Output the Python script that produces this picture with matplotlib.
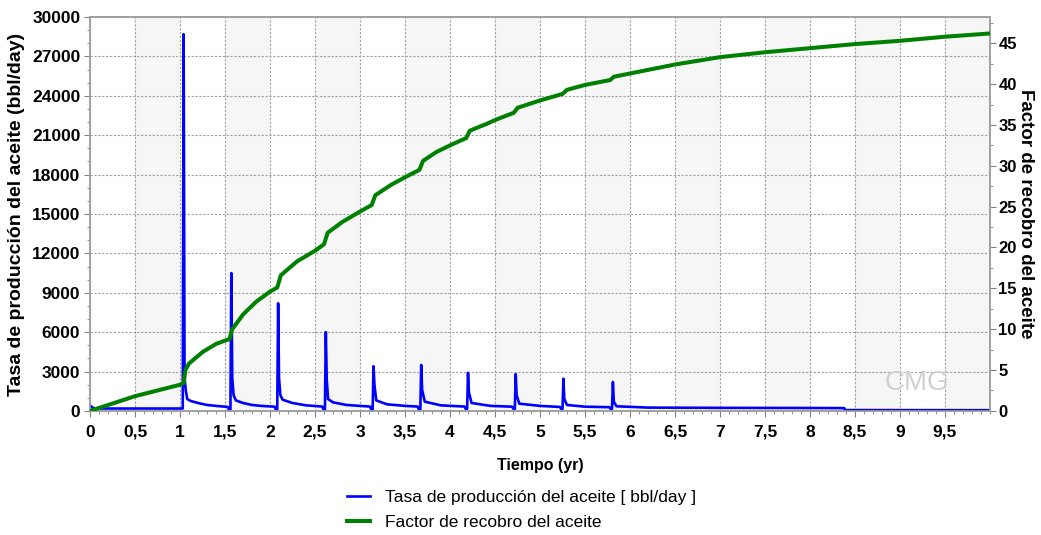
import numpy as np
import matplotlib.pyplot as plt
from matplotlib.ticker import MultipleLocator, FuncFormatter

plt.rcParams['font.family'] = ['Liberation Sans', 'DejaVu Sans']

# oil rate (bbl/day) vs time (yr)
t_rate = [0.0, 0.03, 0.06, 1.03, 1.04, 1.05, 1.065, 1.08, 1.12, 1.2, 1.3, 1.4, 1.53, 1.545, 1.56,
          1.57, 1.58, 1.595, 1.62, 1.7, 1.8, 1.9, 2.05, 2.065, 2.08,
          2.09, 2.1, 2.115, 2.14, 2.25, 2.4, 2.58, 2.595, 2.61,
          2.62, 2.63, 2.645, 2.7, 2.85, 3.0, 3.11, 3.125, 3.14,
          3.15, 3.16, 3.18, 3.3, 3.5, 3.64, 3.655, 3.67,
          3.68, 3.69, 3.72, 3.9, 4.16, 4.175, 4.19,
          4.2, 4.21, 4.24, 4.45, 4.69, 4.705, 4.72,
          4.73, 4.74, 4.77, 5.0, 5.22, 5.235, 5.25,
          5.26, 5.27, 5.3, 5.5, 5.77, 5.785, 5.8,
          5.81, 5.82, 5.85, 6.2, 7.0, 8.0, 8.38, 8.39, 10.0]
rate = [400, 250, 180, 180, 28700, 2500, 1500, 900, 750, 600, 450, 380, 300, 100, 100,
        10500, 2500, 1200, 800, 600, 450, 380, 320, 100, 100,
        8200, 2500, 1200, 850, 600, 420, 330, 100, 100,
        6000, 2400, 900, 650, 450, 380, 330, 100, 100,
        3400, 2000, 800, 500, 380, 330, 100, 100,
        3500, 1600, 700, 420, 330, 150, 150,
        2900, 1400, 600, 380, 320, 150, 150,
        2800, 1200, 550, 380, 300, 150, 150,
        2450, 900, 450, 320, 280, 150, 150,
        2200, 700, 350, 250, 230, 220, 210, 60, 50]

# recovery factor (%) vs time (yr)
t_rf = [0.0, 0.25, 0.5, 0.75, 1.0, 1.04, 1.06, 1.1, 1.25, 1.4, 1.55, 1.58, 1.7, 1.85, 2.0, 2.08,
        2.12, 2.3, 2.5, 2.6, 2.64, 2.8, 3.0, 3.13, 3.17, 3.35, 3.5, 3.66, 3.7, 3.85, 4.0,
        4.18, 4.22, 4.4, 4.5, 4.71, 4.75, 5.0, 5.25, 5.3, 5.5, 5.78, 5.82, 6.0, 6.5, 7.0,
        7.5, 8.0, 8.5, 9.0, 9.5, 10.0]
rf = [0.0, 0.9, 1.8, 2.5, 3.2, 3.4, 5.0, 5.8, 7.2, 8.2, 8.8, 10.0, 11.8, 13.4, 14.6, 15.1,
      16.6, 18.3, 19.6, 20.4, 21.8, 23.1, 24.4, 25.2, 26.4, 27.7, 28.6, 29.5, 30.6, 31.7, 32.5,
      33.4, 34.3, 35.1, 35.6, 36.5, 37.1, 38.0, 38.8, 39.3, 39.9, 40.5, 40.9, 41.3, 42.4, 43.3,
      43.9, 44.4, 44.9, 45.3, 45.8, 46.2]

fig = plt.figure(figsize=(10.41, 5.35), dpi=100)
ax = fig.add_axes([0.0865, 0.232, 0.8645, 0.736])
ax2 = ax.twinx()

# alternating background bands
for x0 in np.arange(0.5, 10, 1.0):
    ax.axvspan(x0, x0 + 0.5, color='#f6f6f6', zorder=0, lw=0)

l1, = ax.plot(t_rate, rate, color='#0000ff', lw=1.9, zorder=3)
l2, = ax2.plot(t_rf, rf, color='#008000', lw=2.9, zorder=3)

ax.set_xlim(0, 10)
ax.set_ylim(0, 30000)
ax2.set_ylim(0, 48.2)

ax.set_xticks(np.arange(0, 10, 0.5))
ax.xaxis.set_minor_locator(MultipleLocator(0.1))
ax.yaxis.set_major_locator(MultipleLocator(3000))
ax.yaxis.set_minor_locator(MultipleLocator(1000))
ax2.yaxis.set_major_locator(MultipleLocator(5))
ax2.yaxis.set_minor_locator(MultipleLocator(2.5))

ax.xaxis.set_major_formatter(FuncFormatter(lambda v, p: ('%g' % v).replace('.', ',')))

ax.grid(True, which='major', color='#a0a0a0', ls=(0, (2, 1.5)), lw=0.8, zorder=1)
ax.axvline(10, color='#a0a0a0', lw=0.8, ls=(0, (2, 1.5)), zorder=1)
ax.set_axisbelow(True)

for a in (ax, ax2):
    for s in a.spines.values():
        s.set_color('#a0a0a0')
        s.set_linewidth(1.2)
    a.tick_params(which='both', color='#808080')
    a.tick_params(which='major', length=4, labelsize=12.5)
    a.tick_params(which='minor', length=2)
    for lab in a.get_xticklabels() + a.get_yticklabels():
        lab.set_fontweight('bold')
ax.tick_params(axis='x', which='major', pad=6)
ax.tick_params(axis='y', which='major', pad=3)
ax2.tick_params(axis='y', which='major', pad=2, labelsize=12)

ax.set_xlabel('Tiempo (yr)', fontsize=11.5, fontweight='bold', labelpad=13)
ax.set_ylabel('Tasa de producción del aceite (bbl/day)', fontsize=14, fontweight='bold')
ax.yaxis.set_label_coords(-0.072, 0.5)
ax2.set_ylabel('Factor de recobro del aceite', fontsize=13.5, fontweight='bold', rotation=-90,
               va='center', ha='center')
ax2.yaxis.set_label_coords(1.04, 0.5)

ax2.text(0.955, 0.07, 'CMG', transform=ax.transAxes, fontsize=20, color='#d0d0d0',
         ha='right', va='center', zorder=0)

fig.legend([l1, l2], ['Tasa de producción del aceite [ bbl/day ]', 'Factor de recobro del aceite'],
           loc='upper left', bbox_to_anchor=(0.325, 0.1), frameon=False, fontsize=12.5,
           handlelength=1.3, labelspacing=0.55, borderpad=0, handletextpad=0.9)

fig.savefig('out.png', dpi=100)
